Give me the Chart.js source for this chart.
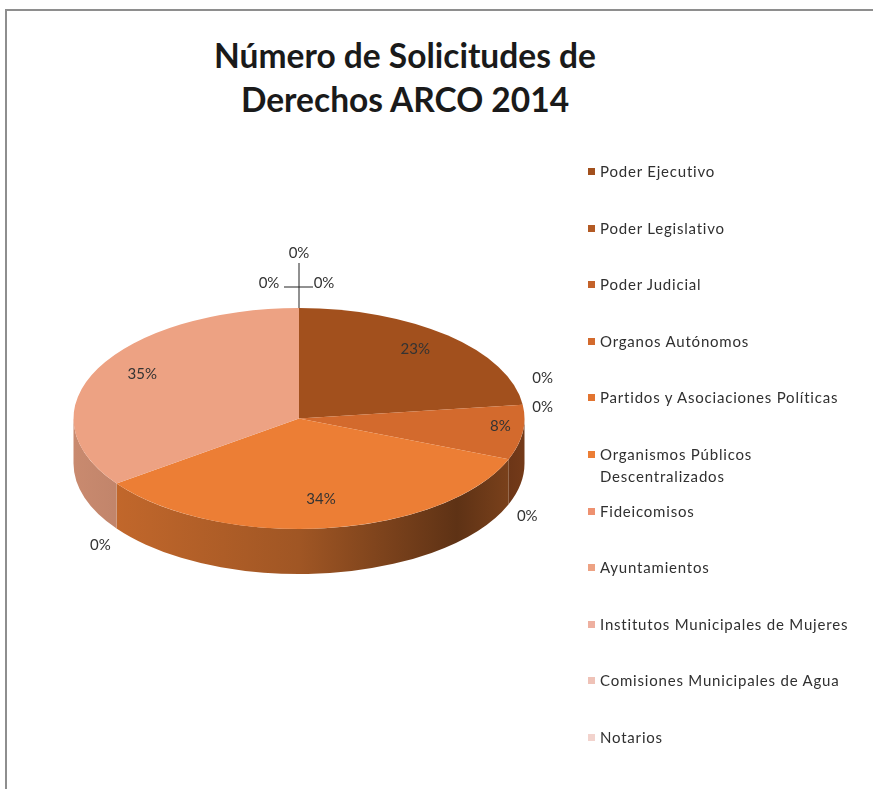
<!DOCTYPE html>
<html>
<head>
<meta charset="utf-8">
<script src="https://cdn.jsdelivr.net/npm/chart.js@4.4.0/dist/chart.umd.min.js"></script>
<style>
  html, body { margin: 0; background: #fff; overflow: hidden; }
  body { width: 873px; height: 789px; position: relative; font-family: Lato, sans-serif; }
  #frame { position: absolute; left: 5px; top: 9px; width: 866px; height: 780px; border-top: 2px solid #8e8e8e; border-left: 2px solid #8e8e8e; }
  #title { position: absolute; left: 130px; width: 550px; top: 33px; text-align: center; font: bold 33.5px/44px Lato, sans-serif; color: #1a1a1a; }
  #pie { position: absolute; left: 0; top: 0; }
  .item { position: absolute; left: 588px; width: 280px; font: 15px/22px Lato, sans-serif; color: #303030; letter-spacing: 0.8px; }
  .item i { position: absolute; left: 0; top: 8px; width: 7px; height: 7px; }
  .item span { display: block; margin-left: 12px; }
</style>
</head>
<body>
<div id="frame"></div>
<div id="title">Número de Solicitudes de<br>Derechos ARCO 2014</div>
<canvas id="pie" width="873" height="789"></canvas>
<div id="legend"></div>
<script>
// categories and percentages
const categories = [
  'Poder Ejecutivo',
  'Poder Legislativo',
  'Poder Judicial',
  'Organos Autónomos',
  'Partidos y Asociaciones Políticas',
  'Organismos Públicos Descentralizados',
  'Fideicomisos',
  'Ayuntamientos',
  'Institutos Municipales de Mujeres',
  'Comisiones Municipales de Agua',
  'Notarios'
];
const percentages = [23, 0, 0, 8, 0, 34, 0, 35, 0, 0, 0];
const colors = ['#A2501D', '#B35A24', '#C4622A', '#D36A2D', '#E27430', '#EC7E35',
                '#EE9170', '#EDA283', '#EEB0A0', '#EFC2B7', '#F2D3CD'];

const tilt = 0.49;   // flattening of the top face
const depth = 45;    // thickness of the pie side

function shade(hex, f) {
  const n = parseInt(hex.slice(1), 16);
  const r = Math.round(((n >> 16) & 255) * f);
  const g = Math.round(((n >> 8) & 255) * f);
  const b = Math.round((n & 255) * f);
  return 'rgb(' + r + ',' + g + ',' + b + ')';
}

// legend
const legend = document.getElementById('legend');
categories.forEach((name, i) => {
  const div = document.createElement('div');
  div.className = 'item';
  div.style.top = (160 + i * 56.6) + 'px';
  div.innerHTML = '<i style="background:' + colors[i] + '"></i><span>' + name + '</span>';
  if (name.length > 34) div.querySelector('span').style.width = '170px';
  legend.appendChild(div);
});

const pie3d = {
  id: 'pie3d',
  beforeDatasetsDraw(chart) {
    const ctx = chart.ctx;
    const arcs = chart.getDatasetMeta(0).data;
    const cx = arcs[0].x, cy = arcs[0].y, r = arcs[0].outerRadius;
    const ry = r * tilt;
    // side of the pie (front half only)
    arcs.forEach((arc, i) => {
      const a0 = Math.max(arc.startAngle, 0);
      const a1 = Math.min(arc.endAngle, Math.PI);
      if (a1 <= a0) return;
      const g = ctx.createLinearGradient(cx - r, 0, cx + r, 0);
      g.addColorStop(0, shade(colors[i], 0.85));
      g.addColorStop(0.5, shade(colors[i], 0.68));
      g.addColorStop(0.85, shade(colors[i], 0.4));
      g.addColorStop(1, shade(colors[i], 0.55));
      ctx.beginPath();
      ctx.ellipse(cx, cy, r, ry, 0, a0, a1);
      ctx.ellipse(cx, cy + depth, r, ry, 0, a1, a0, true);
      ctx.closePath();
      ctx.fillStyle = g;
      ctx.fill();
    });
    ctx.save();
    ctx.translate(cx, cy);
    ctx.scale(1, tilt);
    ctx.translate(-cx, -cy);
  },
  afterDatasetsDraw(chart) {
    const ctx = chart.ctx;
    ctx.restore();
    const arcs = chart.getDatasetMeta(0).data;
    const cx = arcs[0].x, cy = arcs[0].y, r = arcs[0].outerRadius;
    const ry = r * tilt;
    ctx.save();
    ctx.font = '15px Lato, sans-serif';
    ctx.fillStyle = '#333';
    ctx.textAlign = 'center';
    ctx.textBaseline = 'middle';
    const groups = {};
    arcs.forEach((arc, i) => {
      const v = percentages[i];
      const mid = (arc.startAngle + arc.endAngle) / 2;
      if (v > 0) {
        const f = v < 10 ? 0.9 : 0.78;
        ctx.fillText(v + '%', cx + f * r * Math.cos(mid), cy - 5 + f * ry * Math.sin(mid));
      } else {
        const key = mid.toFixed(3);
        (groups[key] = groups[key] || []).push(v);
      }
    });
    ctx.strokeStyle = '#222';
    ctx.lineWidth = 1;
    Object.keys(groups).forEach(key => {
      const a = parseFloat(key);
      const list = groups[key];
      const c = Math.cos(a), s = Math.sin(a);
      if (Math.abs(c) < 0.2 && s < 0) {
        // cluster at the top with leader lines
        const top = cy - ry;
        ctx.beginPath();
        ctx.moveTo(cx, top); ctx.lineTo(cx, top - 45);
        ctx.moveTo(cx - 15, top - 21); ctx.lineTo(cx + 14, top - 21);
        ctx.stroke();
        const pos = [[cx - 30, top - 25], [cx, top - 55], [cx + 25, top - 25]];
        list.forEach((v, j) => ctx.fillText(v + '%', pos[j % 3][0], pos[j % 3][1]));
      } else {
        const px = cx + r * c, py = cy + ry * s + (s > 0 ? depth : 0);
        const lx = px + 20 * c, ly = py + 20 * s;
        const n = list.length;
        list.forEach((v, j) => ctx.fillText(v + '%', lx, ly + (j - (n - 1)) * 29 + 5));
      }
    });
    ctx.restore();
  }
};

new Chart(document.getElementById('pie'), {
  type: 'pie',
  data: {
    labels: categories,
    datasets: [{
      data: percentages,
      backgroundColor: colors,
      borderWidth: 0,
      clip: false
    }]
  },
  options: {
    responsive: false,
    animation: false,
    layout: { padding: { left: 73, right: 348, top: 193, bottom: 145 } },
    plugins: {
      legend: { display: false },
      tooltip: { enabled: false },
      title: { display: false }
    }
  },
  plugins: [pie3d]
});
</script>
</body>
</html>
